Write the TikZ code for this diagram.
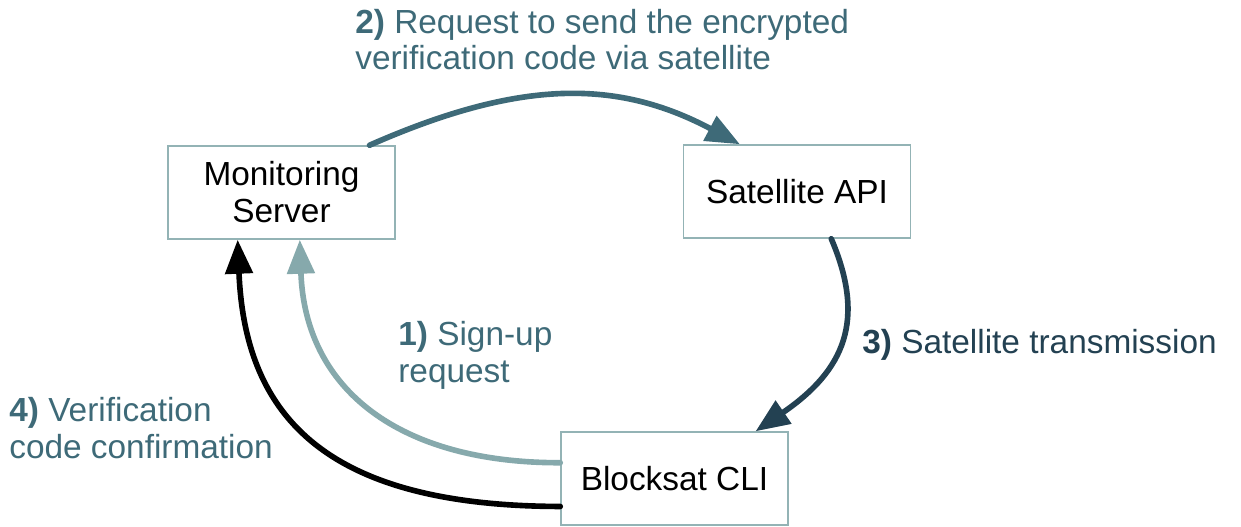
\documentclass[tikz,border=0pt]{standalone}
\usepackage{fontspec}
\setmainfont{Liberation Sans}
\usetikzlibrary{arrows.meta,calc}
\definecolor{tealtxt}{HTML}{3E6A78}
\definecolor{darktxt}{HTML}{234152}
\definecolor{lightarr}{HTML}{86A9AC}
\definecolor{boxline}{HTML}{93B3B5}
\newcommand\diafont{\fontsize{19pt}{21pt}\selectfont}
\begin{document}
\begin{tikzpicture}[x=0.02cm,y=-0.02cm,
  box/.style={draw=boxline, line width=0.85pt, minimum width=4.54cm, minimum height=1.86cm,
    inner sep=0pt, align=center, font=\diafont, text=black},
  lbl/.style={inner sep=0pt, align=left, anchor=base west, font=\diafont},
  conn/.style={line width=3.2pt, line cap=round, -{Triangle[length=0.68cm,width=0.54cm]}}]
\useasboundingbox (0,0) rectangle (1241,527);
\node[box] (ms) at (281.5,192.5) {Monitoring\\Server};
\node[box] (sa) at (797,191.5) {Satellite API};
\node[box] (bc) at (674.5,478.5) {Blocksat CLI};
\node[lbl, text=tealtxt] (l2) at (355,70) {\textbf{2)} Request to send the encrypted\\verification code via satellite};
\node[lbl, text=darktxt] (l3) at (862,353) {\textbf{3)} Satellite transmission};
\node[lbl, text=tealtxt] (l1) at (398,382) {\textbf{1)} Sign-up\\request};
\node[lbl, text=tealtxt] (l4) at (9,458) {\textbf{4)} Verification\\code confirmation};
\draw[conn, tealtxt] ($(ms.north west)!0.885!(ms.north east)$) .. controls (520,79) and (617,79) .. ($(sa.north west)!0.25!(sa.north east)$);
\draw[conn, darktxt] ($(sa.south west)!0.65!(sa.south east)$) .. controls (866,320) and (845,370) .. ($(bc.north west)!0.855!(bc.north east)$);
\draw[conn, lightarr] ($(bc.north west)!0.333!(bc.south west)$) .. controls (400,463) and (305,390) .. ($(ms.south west)!0.58!(ms.south east)$);
\draw[conn, black] ($(bc.north west)!0.796!(bc.south west)$) .. controls (330,506) and (245,420) .. ($(ms.south west)!0.308!(ms.south east)$);
\end{tikzpicture}
\end{document}
